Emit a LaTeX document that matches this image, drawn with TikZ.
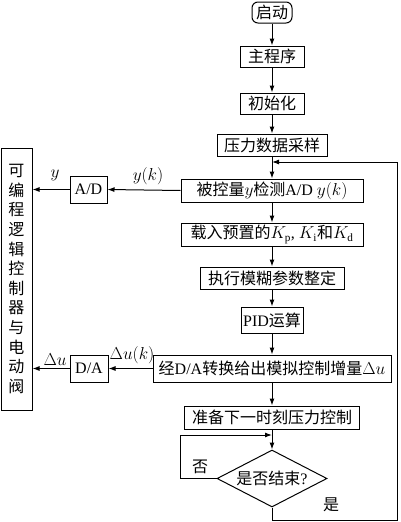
\documentclass[tikz,border=0pt]{standalone}
\usepackage{fontspec}
\setmainfont{Liberation Serif}
\newfontfamily\cjk{Noto Sans CJK SC}
\usetikzlibrary{shapes.geometric,arrows.meta}

\tikzset{
  box/.style={draw, line width=1pt, inner sep=0pt, font=\fontsize{16}{19}\selectfont},
  flow/.style={line width=1pt, -{Latex[length=7pt,width=5pt]}},
  sig/.style={font=\fontsize{16}{19}\selectfont, inner sep=1pt},
}

\begin{document}
\begin{tikzpicture}[x=1pt,y=-1pt]
  \useasboundingbox (0,0) rectangle (400,522);

  % Main column of steps
  \node[box, rounded corners=6pt, minimum width=40pt, minimum height=21pt] (start) at (272,12.5) {\cjk 启动};
  \node[box, minimum width=64pt, minimum height=21pt] (mainp) at (272,56.5) {\cjk 主程序};
  \node[box, minimum width=64pt, minimum height=21pt] (init) at (272,103.5) {\cjk 初始化};
  \node[box, minimum width=110pt, minimum height=22pt] (sample) at (272,145) {\cjk 压力数据采样};
  \node[box, minimum width=182pt, minimum height=23pt] (detect) at (272,190.5)
    {{\cjk 被控量}$y${\cjk 检测}A/D $y(k)$};
  \node[box, minimum width=182pt, minimum height=23pt] (loadk) at (272,234.5)
    {{\cjk 载入预置的}$K_\mathrm{p}$, $K_\mathrm{i}${\cjk 和}$K_\mathrm{d}$};
  \node[box, minimum width=144pt, minimum height=22pt] (fuzzy) at (272,278) {\cjk 执行模糊参数整定};
  \node[box, minimum width=62pt, minimum height=26pt] (pid) at (272,320) {PID{\cjk 运算}};
  \node[box, minimum width=238pt, minimum height=27pt] (dac) at (272,368.5)
    {{\cjk 经}D/A{\cjk 转换给出模拟控制增量}$\Delta u$};
  \node[box, minimum width=175pt, minimum height=23pt] (nextp) at (272,417.5) {\cjk 准备下一时刻压力控制};
  \node[box, diamond, aspect=1.93, minimum width=110pt, minimum height=57pt] (endq) at (272,478.5)
    {{\cjk 是否结束}?};

  % Converters and controller on the left
  \node[box, minimum width=37pt, minimum height=27pt] (ad) at (88.5,189.5) {A/D};
  \node[box, minimum width=38pt, minimum height=27pt] (da) at (89,368.5) {D/A};
  \node[box, minimum width=31pt, minimum height=262pt, align=center,
        font=\fontsize{16}{19.6}\selectfont\cjk] (plc) at (16.5,279)
    {可\\编\\程\\逻\\辑\\控\\制\\器\\与\\电\\动\\阀};

  % Flow down the column
  \draw[flow] (start) -- (mainp);
  \draw[flow] (mainp) -- (init);
  \draw[flow] (init) -- (sample);
  \draw[flow] (sample) -- (detect);
  \draw[flow] (detect) -- (loadk);
  \draw[flow] (loadk) -- (fuzzy);
  \draw[flow] (fuzzy) -- (pid);
  \draw[flow] (pid) -- (dac);
  \draw[flow] (dac) -- (nextp);
  \draw[flow] (nextp) -- (endq);

  % Signals to the controller
  \draw[flow] (detect.west) -- (ad.east);
  \draw[flow] (ad.west) -- (plc.east |- ad.west);
  \draw[flow] (dac.west) -- (da.east);
  \draw[flow] (da.west) -- (plc.east |- da.west);
  \node[sig] (yk) at (148,176) {$y(k)$};
  \node[sig] (yout) at (55,175) {$y$};
  \node[sig] (duk) at (132,355) {$\Delta u(k)$};
  \node[sig] (duout) at (55,360) {$\Delta u$};

  % Loops: no -> wait, yes -> next sample
  \coordinate (noin) at (272,435);
  \coordinate (yesin) at (272,162);
  \draw[flow] (endq.west) -- (180,478.5) -- (180,435) -- (noin);
  \draw[flow] (endq.south) -- (272,520) -- (397,520) -- (397,162) -- (yesin);
  \node[sig, font=\fontsize{16}{19}\selectfont\cjk] (nolab) at (200,467) {否};
  \node[sig, font=\fontsize{16}{19}\selectfont\cjk] (yeslab) at (331,505) {是};

\end{tikzpicture}
\end{document}
